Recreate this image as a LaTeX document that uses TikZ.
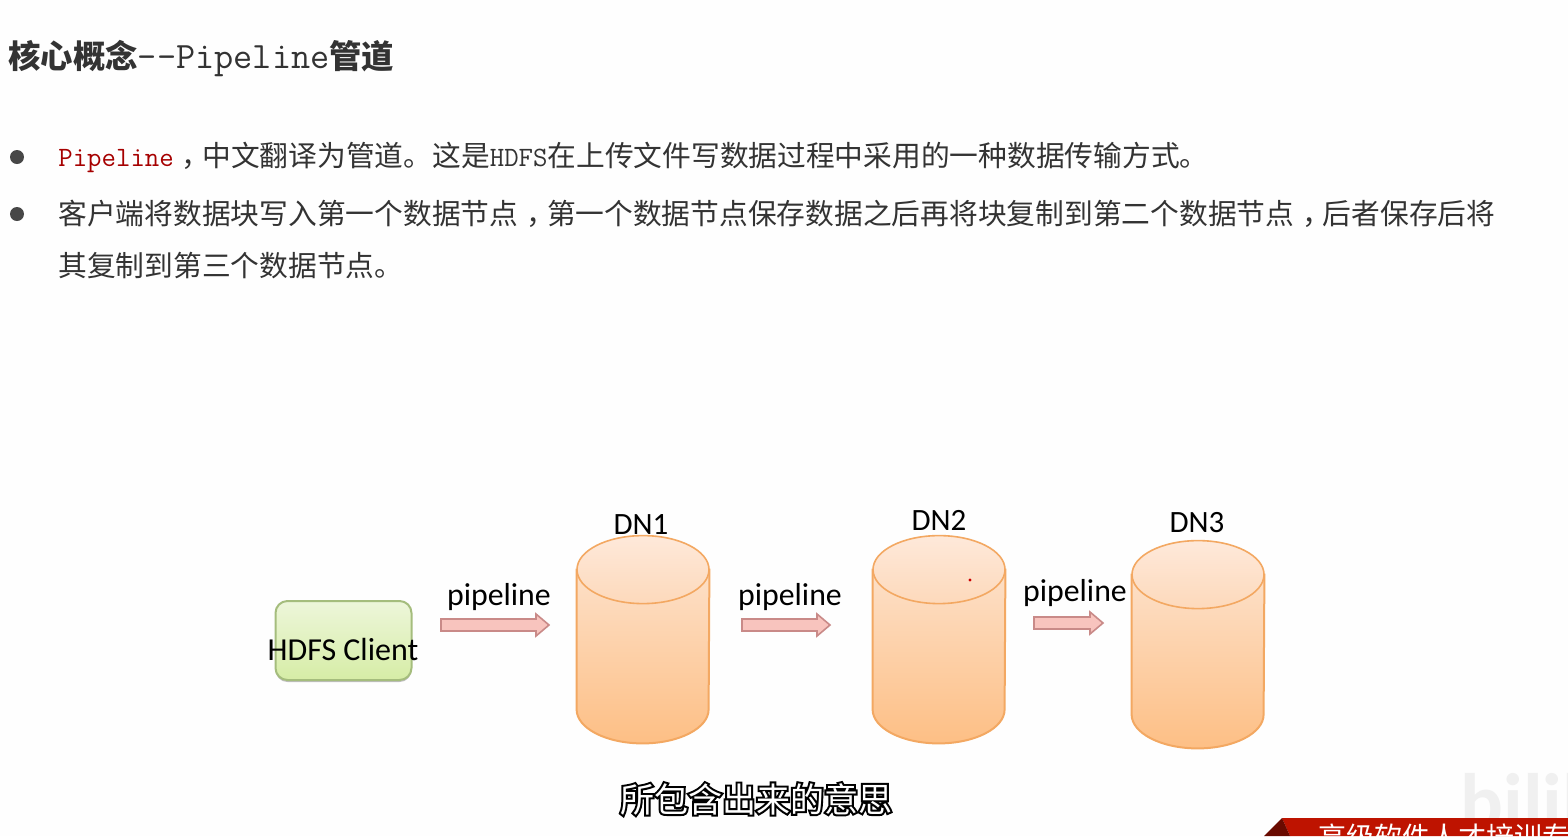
\documentclass[tikz,border=0pt]{standalone}
\usepackage{fontspec}
\setmainfont{Carlito}
\newfontfamily\cjk{Noto Sans CJK SC}
\usetikzlibrary{calc,shadows}
\definecolor{txt}{HTML}{333333}
\definecolor{pagebg}{HTML}{FEFEFE}
\definecolor{cylline}{HTML}{F3A862}
\definecolor{redpipe}{HTML}{C98A88}
\definecolor{banner}{HTML}{BE1300}
\definecolor{cliTop}{HTML}{EDF6DA}
\definecolor{cliBot}{HTML}{D6EDA6}
\definecolor{cliLine}{HTML}{A5BD7D}
\definecolor{bodyTop}{HTML}{FDE0C8}
\definecolor{bodyBot}{HTML}{FDBF85}
\definecolor{capTop}{HTML}{FEE9DA}
\definecolor{capBot}{HTML}{FDD9BB}
\definecolor{pipeFill}{HTML}{F8C4BE}
\newcommand{\tta}[1]{{\ttfamily\fontsize{14pt}{14pt}\selectfont #1}}
\newcommand{\wcomma}{\kern4pt，\kern-4pt}
\tikzset{
  body/.style={anchor=base west,inner sep=0pt,text=txt,font=\cjk\fontsize{14.37pt}{14.37pt}\selectfont},
  headline/.style={anchor=base west,inner sep=0pt,text=txt,font=\cjk\bfseries\fontsize{16.2pt}{16.2pt}\selectfont},
  bulletdot/.style={circle,fill=txt!90,inner sep=0pt,minimum size=7pt},
  clientbox/.style={draw=cliLine,line width=1pt,rounded corners=6pt,minimum width=68pt,minimum height=39.5pt,inner sep=0pt,
    top color=cliTop,bottom color=cliBot,drop shadow={shadow xshift=0pt,shadow yshift=-1pt,opacity=.25,fill=black}},
  dnlabel/.style={inner sep=0pt,text=black,font=\fontsize{15.5pt}{15.5pt}\selectfont},
  pipelabel/.style={inner sep=0pt,text=black,font=\fontsize{15.9pt}{15.9pt}\selectfont},
  cylbody/.style={draw=cylline,line width=1pt,top color=bodyTop,bottom color=bodyBot},
  cyltop/.style={draw=cylline,line width=.8pt,top color=capTop,bottom color=capBot},
  cylframe/.style={inner sep=0pt,minimum width=66pt,minimum height=103.5pt},
  pipe/.style={draw=redpipe,line width=.8pt,fill=pipeFill,
    to path={
      ($(\tikztostart)+(0pt,3pt)$) -- ($(\tikztotarget)+(-6.5pt,3pt)$) -- ($(\tikztotarget)+(-6.5pt,5.5pt)$) --
      (\tikztotarget) -- ($(\tikztotarget)+(-6.5pt,-5.5pt)$) -- ($(\tikztotarget)+(-6.5pt,-3pt)$) -- ($(\tikztostart)+(0pt,-3pt)$) -- cycle}},
}
\newcommand{\dbcyl}[3]{%
  \node[cylframe] (#1) at (#2,#3) {};
  \path[cylbody] ($(#1.north west)+(0,-17pt)$) -- ($(#1.south west)+(0,17pt)$)
     arc[start angle=180,end angle=360,x radius=33pt,y radius=17pt]
     -- ($(#1.north east)+(0,-17pt)$) -- cycle;
  \path[cyltop] ($(#1.north)+(0,-17pt)$) ellipse[x radius=33pt,y radius=17pt];
}
\begin{document}
\begin{tikzpicture}[x=0.5pt,y=-0.5pt]
\useasboundingbox (0,0) rectangle (1568,836);
\fill[pagebg] (0,0) rectangle (1568,836);

\node[headline] (title) at (8,68) {核心概念{\mdseries\ttfamily\fontsize{18.6pt}{18.6pt}\selectfont --Pipeline}管道};

\node[bulletdot] (b1) at (17,157) {};
\node[bulletdot] (b2) at (17,214) {};
\node[body] (l1) at (58,166) {\textcolor{red!65!black}{\tta{Pipeline}}\wcomma 中文翻译为管道。这是\tta{HDFS}在上传文件写数据过程中采用的一种数据传输方式。};
\node[body] (l2) at (58,224) {客户端将数据块写入第一个数据节点\wcomma 第一个数据节点保存数据之后再将块复制到第二个数据节点\wcomma 后者保存后将};
\node[body] (l3) at (58,276) {其复制到第三个数据节点。};

\node[clientbox] (client) at (343.5,640.5) {};
\node[inner sep=0pt,text=black,font=\fontsize{16pt}{16pt}\selectfont] (clienttext) at (343,649) {HDFS Client};

\dbcyl{dn1}{643}{639.5}
\dbcyl{dn2}{939}{639.5}
\dbcyl{dn3}{1198}{644.5}

\node[dnlabel] (l1dn) at (641,525) {DN1};
\node[dnlabel] (l2dn) at (939,520) {DN2};
\node[dnlabel] (l3dn) at (1197,523) {DN3};

\node[pipelabel] (p1) at (499,597) {pipeline};
\node[pipelabel] (p2) at (790,597) {pipeline};
\node[pipelabel] (p3) at (1075,593) {pipeline};

\coordinate (a1s) at (441,625); \coordinate (a1e) at (549,625);
\coordinate (a2s) at (742,625); \coordinate (a2e) at (830,625);
\coordinate (a3s) at (1034,623); \coordinate (a3e) at (1103,623);
\path[pipe] (a1s) to (a1e);
\path[pipe] (a2s) to (a2e);
\path[pipe] (a3s) to (a3e);

\fill[red!80!black] (970,580) circle (.8pt);

\begin{scope}
\clip (0,0) rectangle (1568,836);
\node[inner sep=0pt,anchor=base west,text=gray!12,font=\bfseries\fontsize{40pt}{40pt}\selectfont] (wm) at (1460,829) {bilibili};
\fill[banner] (1282,818) -- (1568,818) -- (1568,836) -- (1290,836) -- cycle;
\fill[banner!55!black] (1264,836) -- (1282,818) -- (1290,836) -- cycle;
\node[inner sep=0pt,anchor=base west,text=white,font=\cjk\fontsize{14pt}{14pt}\selectfont] (bannertext) at (1318,847) {高级软件人才培训专};
\end{scope}

\node[inner sep=0pt,text=white,font=\cjk\fontsize{17pt}{17pt}\selectfont] (sub) at (756,799)
  {\rlap{\special{pdf:code q 2 Tr 2 w 0 G 0 g}所包含出来的意思\special{pdf:code Q}}所包含出来的意思};
\end{tikzpicture}
\end{document}
